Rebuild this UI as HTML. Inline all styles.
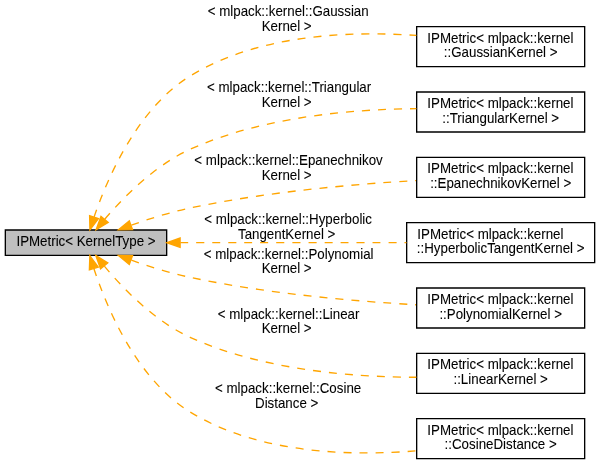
<!DOCTYPE html>
<html><head><meta charset="utf-8"><style>
html,body{margin:0;padding:0;background:#fff;width:600px;height:465px;overflow:hidden}
svg{display:block;will-change:transform}
text{white-space:pre;font-family:"Liberation Sans",sans-serif;font-size:10px;fill:#000;stroke:#000;stroke-width:0.05}
</style></head><body>
<svg width="600" height="465" viewBox="0 0 600 465">
<g id="graph0" class="graph" transform="scale(1.333333) translate(4 344.5)">
<g id="node1" class="node">
<polygon fill="#bfbfbf" stroke="black" points="0,-153 0,-172 121,-172 121,-153 0,-153"/>
<text text-anchor="middle" transform="translate(60.5 -160) scale(1 1.03)">IPMetric&lt; KernelType &gt;</text>
</g>
<g id="node2" class="node">
<polygon fill="white" stroke="black" points="308.5,-294.5 308.5,-324.5 434.5,-324.5 434.5,-294.5 308.5,-294.5"/>
<text text-anchor="start" transform="translate(316.5 -312.5) scale(1 1.03)">IPMetric&lt; mlpack::kernel</text>
<text text-anchor="middle" transform="translate(371.5 -301.5) scale(1 1.03)">::GaussianKernel &gt;</text>
</g>
<g id="edge1" class="edge">
<path fill="none" stroke="#ffa500" stroke-dasharray="6,6" d="M66.57,-181.76C76.30,-210.29 98.81,-263.03 138.57,-287.5 189.60,-318.89 258.75,-321.41 308.26,-317.91"/>
<polygon fill="#ffa500" stroke="#ffa500" points="69.86,-180.56 63.46,-172.12 63.20,-182.71 69.86,-180.56"/>
<text text-anchor="start" transform="translate(149 -332.5) scale(1 1.03)"> &lt; mlpack::kernel::Gaussian</text>
<text text-anchor="middle" transform="translate(211 -321.5) scale(1 1.03)">Kernel &gt;</text>
</g>
<g id="node3" class="node">
<polygon fill="white" stroke="black" points="308.5,-245.5 308.5,-275.5 434.5,-275.5 434.5,-245.5 308.5,-245.5"/>
<text text-anchor="start" transform="translate(316.5 -263.5) scale(1 1.03)">IPMetric&lt; mlpack::kernel</text>
<text text-anchor="middle" transform="translate(371.5 -252.5) scale(1 1.03)">::TriangularKernel &gt;</text>
</g>
<g id="edge2" class="edge">
<path fill="none" stroke="#ffa500" stroke-dasharray="6,6" d="M74.56,-180.08C88.65,-196.62 112.23,-220.59 138.57,-232.5 192.60,-256.92 260.06,-262.63 308.30,-263"/>
<polygon fill="#ffa500" stroke="#ffa500" points="77.14,-177.7 68.08,-172.2 71.73,-182.15 77.14,-177.7"/>
<text text-anchor="start" transform="translate(148.5 -275.5) scale(1 1.03)"> &lt; mlpack::kernel::Triangular</text>
<text text-anchor="middle" transform="translate(211 -264.5) scale(1 1.03)">Kernel &gt;</text>
</g>
<g id="node4" class="node">
<polygon fill="white" stroke="black" points="308.5,-196.5 308.5,-226.5 434.5,-226.5 434.5,-196.5 308.5,-196.5"/>
<text text-anchor="start" transform="translate(316.5 -214.5) scale(1 1.03)">IPMetric&lt; mlpack::kernel</text>
<text text-anchor="middle" transform="translate(371.5 -203.5) scale(1 1.03)">::EpanechnikovKernel &gt;</text>
</g>
<g id="edge3" class="edge">
<path fill="none" stroke="#ffa500" stroke-dasharray="6,6" d="M94.55,-175.68C108.04,-180.42 123.85,-185.37 138.57,-188.5 195.47,-200.62 261.09,-206.37 308.01,-209.09"/>
<polygon fill="#ffa500" stroke="#ffa500" points="95.39,-172.26 84.79,-172.12 92.99,-178.83 95.39,-172.26"/>
<text text-anchor="start" transform="translate(139 -220.5) scale(1 1.03)"> &lt; mlpack::kernel::Epanechnikov</text>
<text text-anchor="middle" transform="translate(211 -209.5) scale(1 1.03)">Kernel &gt;</text>
</g>
<g id="node5" class="node">
<polygon fill="white" stroke="black" points="301,-147.5 301,-177.5 442,-177.5 442,-147.5 301,-147.5"/>
<text text-anchor="start" transform="translate(309 -165.5) scale(1 1.03)">IPMetric&lt; mlpack::kernel</text>
<text text-anchor="middle" transform="translate(371.5 -154.5) scale(1 1.03)">::HyperbolicTangentKernel &gt;</text>
</g>
<g id="edge4" class="edge">
<path fill="none" stroke="#ffa500" stroke-dasharray="6,6" d="M131.29,-162.5C181.95,-162.5 250.21,-162.5 300.84,-162.5"/>
<polygon fill="#ffa500" stroke="#ffa500" points="131.08,-159 121.08,-162.5 131.08,-166 131.08,-159"/>
<text text-anchor="start" transform="translate(146.5 -176.5) scale(1 1.03)"> &lt; mlpack::kernel::Hyperbolic</text>
<text text-anchor="middle" transform="translate(211 -165.5) scale(1 1.03)">TangentKernel &gt;</text>
</g>
<g id="node6" class="node">
<polygon fill="white" stroke="black" points="308.5,-98.5 308.5,-128.5 434.5,-128.5 434.5,-98.5 308.5,-98.5"/>
<text text-anchor="start" transform="translate(316.5 -116.5) scale(1 1.03)">IPMetric&lt; mlpack::kernel</text>
<text text-anchor="middle" transform="translate(371.5 -105.5) scale(1 1.03)">::PolynomialKernel &gt;</text>
</g>
<g id="edge5" class="edge">
<path fill="none" stroke="#ffa500" stroke-dasharray="6,6" d="M94.55,-149.32C108.04,-144.58 123.85,-139.63 138.57,-136.5 195.47,-124.38 261.09,-118.63 308.01,-115.91"/>
<polygon fill="#ffa500" stroke="#ffa500" points="92.99,-146.17 84.79,-152.88 95.39,-152.74 92.99,-146.17"/>
<text text-anchor="start" transform="translate(146 -150.5) scale(1 1.03)"> &lt; mlpack::kernel::Polynomial</text>
<text text-anchor="middle" transform="translate(211 -139.5) scale(1 1.03)">Kernel &gt;</text>
</g>
<g id="node7" class="node">
<polygon fill="white" stroke="black" points="308.5,-49.5 308.5,-79.5 434.5,-79.5 434.5,-49.5 308.5,-49.5"/>
<text text-anchor="start" transform="translate(316.5 -67.5) scale(1 1.03)">IPMetric&lt; mlpack::kernel</text>
<text text-anchor="middle" transform="translate(371.5 -56.5) scale(1 1.03)">::LinearKernel &gt;</text>
</g>
<g id="edge6" class="edge">
<path fill="none" stroke="#ffa500" stroke-dasharray="6,6" d="M74.27,-144.92C88.29,-128.11 111.92,-103.58 138.57,-91.5 192.54,-67.02 260.00,-61.64 308.27,-61.56"/>
<polygon fill="#ffa500" stroke="#ffa500" points="71.39,-142.92 67.84,-152.9 76.84,-147.31 71.39,-142.92"/>
<text text-anchor="start" transform="translate(156.5 -105.5) scale(1 1.03)"> &lt; mlpack::kernel::Linear</text>
<text text-anchor="middle" transform="translate(211 -94.5) scale(1 1.03)">Kernel &gt;</text>
</g>
<g id="node8" class="node">
<polygon fill="white" stroke="black" points="308.5,-0.5 308.5,-30.5 434.5,-30.5 434.5,-0.5 308.5,-0.5"/>
<text text-anchor="start" transform="translate(316.5 -18.5) scale(1 1.03)">IPMetric&lt; mlpack::kernel</text>
<text text-anchor="middle" transform="translate(371.5 -7.5) scale(1 1.03)">::CosineDistance &gt;</text>
</g>
<g id="edge7" class="edge">
<path fill="none" stroke="#ffa500" stroke-dasharray="6,6" d="M66.45,-142.9C76.03,-113.87 98.33,-60.22 138.57,-35.5 189.59,-4.17 258.73,-2.3 308.26,-6.35"/>
<polygon fill="#ffa500" stroke="#ffa500" points="63.03,-142.12 63.39,-152.71 69.71,-144.2 63.03,-142.12"/>
<text text-anchor="start" transform="translate(154.5 -49.5) scale(1 1.03)"> &lt; mlpack::kernel::Cosine</text>
<text text-anchor="middle" transform="translate(211 -38.5) scale(1 1.03)">Distance &gt;</text>
</g>
</g>

</svg></body></html>
